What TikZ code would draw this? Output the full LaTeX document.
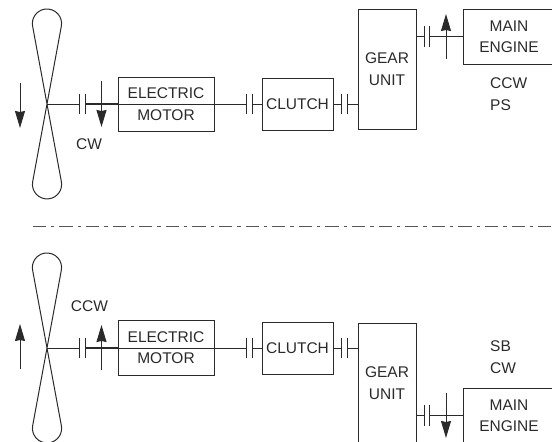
\documentclass[tikz,border=0pt]{standalone}
\usepackage{fontspec}
\setmainfont{Liberation Sans}
\usepackage{tikz}
\usetikzlibrary{arrows.meta}
\definecolor{Ink}{HTML}{2A2A2A}
\tikzset{
  unitbox/.style={
    rectangle, draw=Ink, line width=1pt,
    align=center, inner sep=0pt,
    font=\fontsize{15.5}{21.5}\selectfont, text=Ink
  },
  tag/.style={inner sep=0pt, align=left, text=Ink, font=\fontsize{15.5}{21.5}\selectfont},
  shaftline/.style={line width=1pt, color=Ink},
  driveshaft/.style={line width=1.6pt, color=Ink},
  spinArr/.style={-{Stealth[length=17pt, width=10pt, inset=1pt]}, line width=1pt, color=Ink},
  centerline/.style={line width=1pt, color=Ink!80, dash pattern=on 13.3pt off 5pt on 3.3pt off 5pt},
  clutchgap/.style={
    inner sep=0pt, minimum width=5pt, minimum height=20pt,
    append after command={
      (\tikzlastnode.north west) edge[shaftline] (\tikzlastnode.south west)
      (\tikzlastnode.north east) edge[shaftline] (\tikzlastnode.south east)
    }
  },
  blade/.pic={
    \draw[shaftline] (0,0) -- (-14.4,-77.9) arc[start angle=170, end angle=370, radius=14.6] -- (0,0)
      -- (14.4,77.8) arc[start angle=-10, end angle=190, radius=14.6] -- cycle;
  },
}
\begin{document}
\begin{tikzpicture}[x=1pt, y=-1pt]
\useasboundingbox (0,0) rectangle (552,442);

% port side, upper half

\coordinate (hubA) at (47,104);
\pic at (hubA) {blade};

\node[clutchgap] at (82.5,104) (gapA) {};
\node[unitbox, minimum width=96pt, minimum height=54pt] at (166,104) (motorA) {ELECTRIC\\MOTOR};
\node[clutchgap] at (249.5,104) (gapB) {};
\node[unitbox, minimum width=71pt, minimum height=52pt] at (297.5,104) (clutchA) {CLUTCH};
\node[clutchgap] at (344.5,104) (gapC) {};
\node[unitbox, minimum width=58pt, minimum height=120pt] at (387,69) (gearA) {GEAR\\UNIT};
\node[clutchgap] at (427,36.5) (gapD) {};
\node[unitbox, minimum width=92pt, minimum height=55pt] at (509,36.5) (engineA) {MAIN\\ENGINE};

\draw[shaftline] (hubA) -- (gapA.west);
\draw[driveshaft] (gapA.east) -- (motorA.west);
\draw[shaftline] (motorA.west) -- (motorA.east);
\draw[shaftline] (motorA.east) -- (gapB.west);
\draw[shaftline] (gapB.east) -- (clutchA.west);
\draw[shaftline] (clutchA.east) -- (gapC.west);
\draw[shaftline] (gapC.east) -- (gapC.east -| gearA.west);
\draw[shaftline] (gapD.west -| gearA.east) -- (gapD.west);
\draw[shaftline] (gapD.east) -- (engineA.west);

\coordinate (bladeTailA) at (20,83);
\coordinate (bladeTipA) at (20,128);
\coordinate (shaftTailA) at (101.5,81);
\coordinate (shaftTipA) at (101.5,127);
\coordinate (engineTailA) at (446,59);
\coordinate (engineTipA) at (446,14);
\draw[spinArr] (bladeTailA) -- (bladeTipA);
\draw[spinArr] (shaftTailA) -- (shaftTipA);
\draw[spinArr] (engineTailA) -- (engineTipA);

\node[tag] at (89,144) (cwA) {CW};
\node[tag, anchor=west] at (490,94) (psA) {CCW\\PS};

\coordinate (lineStart) at (32.7,226);
\coordinate (lineEnd) at (552,226);
\draw[centerline] (lineStart) -- (lineEnd);

% starboard side, lower half

\coordinate (hubB) at (47,348);
\pic at (hubB) {blade};

\node[clutchgap] at (82.5,348) (gapE) {};
\node[unitbox, minimum width=96pt, minimum height=55pt] at (166,347.5) (motorB) {ELECTRIC\\MOTOR};
\node[clutchgap] at (249.5,348) (gapF) {};
\node[unitbox, minimum width=71pt, minimum height=52pt] at (297.5,348) (clutchB) {CLUTCH};
\node[clutchgap] at (344.5,348) (gapG) {};
\node[unitbox, minimum width=58pt, minimum height=120pt] at (387,383) (gearB) {GEAR\\UNIT};
\node[clutchgap] at (427,415.5) (gapH) {};
\node[unitbox, minimum width=92pt, minimum height=55pt] at (509,415.5) (engineB) {MAIN\\ENGINE};

\draw[shaftline] (hubB) -- (gapE.west);
\draw[driveshaft] (gapE.east) -- (gapE.east -| motorB.west);
\draw[shaftline] (gapE.east -| motorB.west) -- (gapE.east -| motorB.east);
\draw[shaftline] (gapF.west -| motorB.east) -- (gapF.west);
\draw[shaftline] (gapF.east) -- (clutchB.west);
\draw[shaftline] (clutchB.east) -- (gapG.west);
\draw[shaftline] (gapG.east) -- (gapG.east -| gearB.west);
\draw[shaftline] (gapH.west -| gearB.east) -- (gapH.west);
\draw[shaftline] (gapH.east) -- (engineB.west);

\coordinate (bladeTailB) at (20,369);
\coordinate (bladeTipB) at (20,324);
\coordinate (shaftTailB) at (101.5,370);
\coordinate (shaftTipB) at (101.5,325);
\coordinate (engineTailB) at (446,393);
\coordinate (engineTipB) at (446,438);
\draw[spinArr] (bladeTailB) -- (bladeTipB);
\draw[spinArr] (shaftTailB) -- (shaftTipB);
\draw[spinArr] (engineTailB) -- (engineTipB);

\node[tag] at (89.5,306) (ccwB) {CCW};
\node[tag, anchor=west] at (490,357) (sbB) {SB\\CW};

\end{tikzpicture}
\end{document}
